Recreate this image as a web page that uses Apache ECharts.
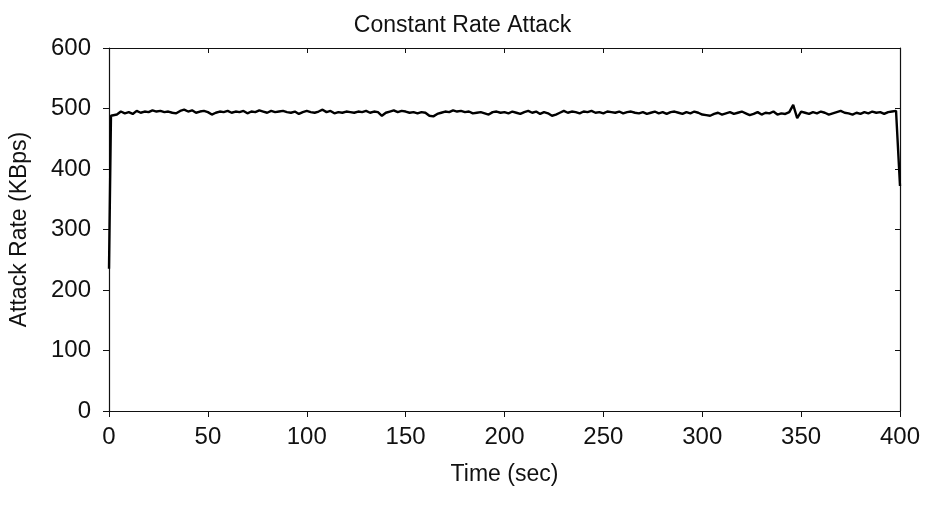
<!DOCTYPE html>
<html>
<head>
<meta charset="utf-8">
<script src="https://cdn.jsdelivr.net/npm/echarts@6/dist/echarts.min.js"></script>
<style>
html,body{margin:0;padding:0;background:#fff;}
#chart{width:925px;height:516px;}
</style>
</head>
<body>
<div id="chart"></div>
<script>
// ---- data ----
const title = 'Constant Rate Attack';
const xName = 'Time (sec)';
const yName = 'Attack Rate (KBps)';
const xTicks = [0, 50, 100, 150, 200, 250, 300, 350, 400];
const yTicks = [0, 100, 200, 300, 400, 500, 600];

// ramp-up samples (sec, KBps)
const startTimes = [0, 1, 2];
const startRates = [235, 488, 490];

// steady-state samples every 2 s from t = 4 to t = 398
const steadyStart = 4;
const steadyStep = 2;
const steadyRates = [
  490,495,492,494,491,496,493,495,494,497,
  495,496,494,495,493,492,496,498,495,497,
  493,495,496,494,490,493,495,494,496,493,
  495,494,496,492,495,494,497,495,493,496,
  494,495,496,494,493,495,491,494,496,494,
  493,495,498,494,496,492,494,493,495,494,
  493,495,494,496,493,495,494,488,493,495,
  497,494,496,495,493,494,492,494,493,488,
  487,491,493,495,494,497,495,496,494,495,
  492,493,494,492,490,494,495,493,494,492,
  495,493,491,494,496,493,495,491,494,492,
  488,490,493,496,493,495,494,492,495,494,
  496,493,494,492,495,494,493,495,492,494,
  495,493,492,494,491,493,495,492,494,491,
  494,495,493,491,494,492,495,493,490,489,
  488,491,493,490,492,494,491,493,495,492,
  489,491,494,490,493,492,495,490,492,491,
  494,506,484,495,493,491,494,492,495,493,
  490,492,494,496,493,492,490,493,491,494,
  492,495,493,494,491,494,495,496
];

// shut-down samples
const endTimes = [399, 400];
const endRates = [494, 372];

// ---- build series ----
const seriesData = [];
startTimes.forEach((t, i) => seriesData.push([t, startRates[i]]));
steadyRates.forEach((v, i) => seriesData.push([steadyStart + i * steadyStep, v]));
endTimes.forEach((t, i) => seriesData.push([t, endRates[i]]));

const font = "'Liberation Sans', Arial, Helvetica, sans-serif";
const chart = echarts.init(document.getElementById('chart'), null, {renderer: 'canvas'});
const axisLine = {show: true, onZero: false, lineStyle: {color: '#111', width: 1.2}};
chart.setOption({
  animation: false,
  backgroundColor: '#fff',
  title: {
    text: title, left: 'center', top: 9,
    textStyle: {fontFamily: font, fontSize: 23, fontWeight: 'normal', color: '#111'}
  },
  grid: {left: 108, right: 25, top: 48, bottom: 105, containLabel: false},
  xAxis: [{
    type: 'value', min: xTicks[0], max: xTicks[xTicks.length - 1], interval: 50,
    name: xName, nameLocation: 'middle', nameGap: 52,
    nameTextStyle: {fontFamily: font, fontSize: 23, color: '#111'},
    axisLine: axisLine,
    axisTick: {show: true, inside: false, length: 6, lineStyle: {color: '#111'}},
    axisLabel: {fontFamily: font, fontSize: 24, color: '#111', margin: 14},
    splitLine: {show: false}
  }, {
    type: 'value', position: 'top', min: xTicks[0], max: xTicks[xTicks.length - 1], interval: 50,
    axisLine: axisLine,
    axisTick: {show: true, inside: true, length: 5, lineStyle: {color: '#111'}},
    axisLabel: {show: false}, splitLine: {show: false}
  }],
  yAxis: [{
    type: 'value', min: yTicks[0], max: yTicks[yTicks.length - 1], interval: 100,
    name: yName, nameLocation: 'middle', nameGap: 78, nameRotate: 90,
    nameTextStyle: {fontFamily: font, fontSize: 23, color: '#111'},
    axisLine: axisLine,
    axisTick: {show: true, inside: false, length: 6, lineStyle: {color: '#111'}},
    axisLabel: {fontFamily: font, fontSize: 24, color: '#111', margin: 18},
    splitLine: {show: false}
  }, {
    type: 'value', position: 'right', min: yTicks[0], max: yTicks[yTicks.length - 1], interval: 100,
    axisLine: axisLine,
    axisTick: {show: true, inside: true, length: 5, lineStyle: {color: '#111'}},
    axisLabel: {show: false}, splitLine: {show: false}
  }],
  series: [{
    type: 'line', xAxisIndex: 0, yAxisIndex: 0,
    data: seriesData, showSymbol: false, symbol: 'none',
    lineStyle: {color: '#000', width: 2.4},
    z: 3
  }]
});
</script>
</body>
</html>
